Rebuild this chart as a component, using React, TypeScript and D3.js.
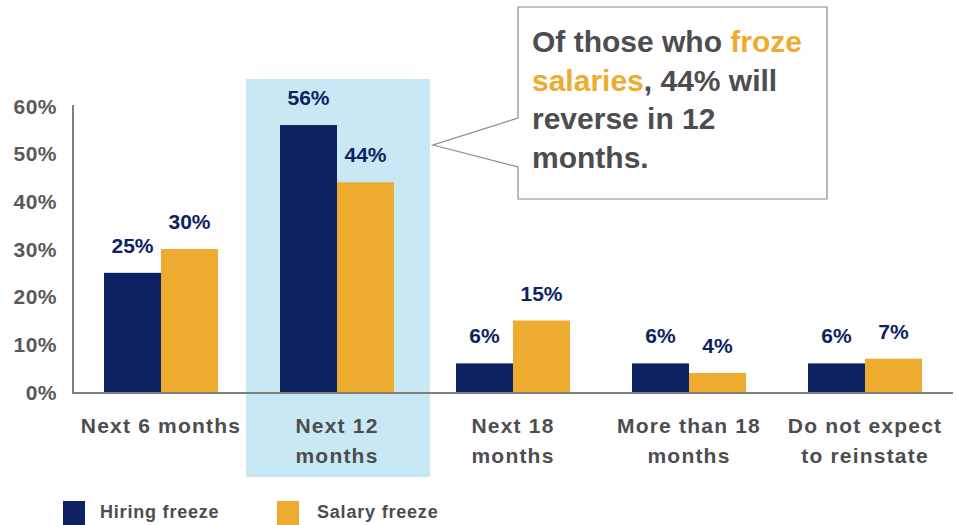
import React from "react";
import * as d3 from "d3";

const categories: string[][] = [
  ["Next 6 months"],
  ["Next 12", "months"],
  ["Next 18", "months"],
  ["More than 18", "months"],
  ["Do not expect", "to reinstate"],
];
const hiringFreeze = [25, 56, 6, 6, 6];
const salaryFreeze = [30, 44, 15, 4, 7];
const seriesNames = ["Hiring freeze", "Salary freeze"];
const yTicks = [0, 10, 20, 30, 40, 50, 60];
const highlightIndex = 1;
const calloutLines: { text: string; orange?: boolean }[][] = [
  [{ text: "Of those who " }, { text: "froze", orange: true }],
  [{ text: "salaries", orange: true }, { text: ", 44% will" }],
  [{ text: "reverse in 12" }],
  [{ text: "months." }],
];

const NAVY = "#0d2263";
const ORANGE = "#edac2f";
const HIGHLIGHT = "#c8e8f4";
const TEXT = "#4d4d4f";
const AXIS = "#7f7f7f";
const FONT = "'Liberation Sans', Arial, Helvetica, sans-serif";

export default function App() {
  const W = 956;
  const H = 525;
  const left = 73;
  const right = 953;
  const baseY = 392;
  const topY = 106;

  const idx = categories.map((_, i) => String(i));
  const x = d3.scaleBand<string>().domain(idx).range([left, right]).padding(0);
  const y = d3.scaleLinear().domain([0, 60]).range([baseY, topY]);
  const step = x.bandwidth();
  const barW = 57;
  const groupOffset = (step - 2 * barW) / 2;
  const series = [hiringFreeze, salaryFreeze];
  const colors = [NAVY, ORANGE];

  const hx = x(String(highlightIndex))!;

  return (
    <svg
      width={W}
      height={H}
      style={{ position: "absolute", left: 0, top: 0, background: "#fff" }}
      fontFamily={FONT}
    >
      <rect x={hx - 3} y={79} width={step + 8} height={398} fill={HIGHLIGHT} />

      {series.map((vals, s) =>
        vals.map((v, i) => {
          const bx = x(String(i))! + groupOffset + s * barW;
          return (
            <g key={`${s}-${i}`}>
              <rect x={bx} y={y(v)} width={barW} height={baseY - y(v)} fill={colors[s]} />
              <text
                x={bx + barW / 2}
                y={y(v) - 20}
                textAnchor="middle"
                fontSize={21}
                fontWeight="bold"
                fill={NAVY}
              >
                {v}%
              </text>
            </g>
          );
        })
      )}

      <line x1={left} x2={left} y1={105} y2={baseY + 1} stroke={AXIS} strokeWidth={2} />
      <line x1={left - 1} x2={right} y1={baseY + 1} y2={baseY + 1} stroke={AXIS} strokeWidth={2} />

      {yTicks.map((t) => (
        <text
          key={t}
          x={57}
          y={y(t)}
          dy="0.36em"
          textAnchor="end"
          fontSize={21}
          fontWeight="bold"
          fill="#595959"
          letterSpacing={0.5}
        >
          {t}%
        </text>
      ))}

      {categories.map((lines, i) => (
        <text
          key={i}
          x={x(String(i))! + step / 2}
          textAnchor="middle"
          fontSize={21}
          fontWeight="bold"
          fill={TEXT}
          letterSpacing={1.2}
        >
          {lines.map((l, j) => (
            <tspan key={j} x={x(String(i))! + step / 2} y={433 + j * 30}>
              {l}
            </tspan>
          ))}
        </text>
      ))}

      <path
        d="M518,7 H827 V199 H518 V167 L433,145 L518,118 Z"
        fill="#fff"
        stroke="#8a8a8a"
        strokeWidth={1.2}
      />
      {calloutLines.map((parts, j) => (
        <text key={j} x={532} y={52 + j * 38.5} fontSize={30} fontWeight="bold" fill={TEXT}>
          {parts.map((p, k) => (
            <tspan key={k} fill={p.orange ? ORANGE : TEXT}>
              {p.text}
            </tspan>
          ))}
        </text>
      ))}

      {seriesNames.map((n, s) => {
        const lx = s === 0 ? 63 : 277;
        return (
          <g key={n}>
            <rect x={lx} y={501} width={22} height={24} fill={colors[s]} />
            <text
              x={lx + 37 + (s === 1 ? 3 : 0)}
              y={518}
              fontSize={18}
              fontWeight="bold"
              fill={TEXT}
              letterSpacing={0.8}
            >
              {n}
            </text>
          </g>
        );
      })}
    </svg>
  );
}
